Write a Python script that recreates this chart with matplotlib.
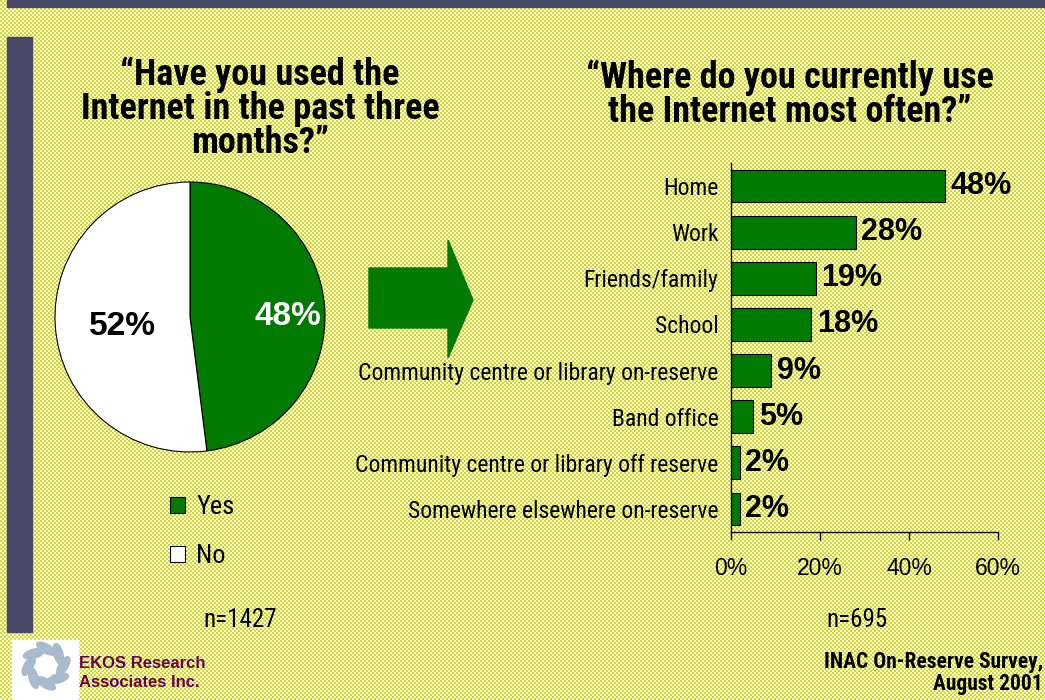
import numpy as np
import matplotlib.pyplot as plt
from matplotlib import font_manager
from matplotlib.patches import Rectangle, Polygon, Ellipse

W, H = 1045, 700

# data
pie_labels = ["Yes", "No"]
pie_values = [48, 52]
pie_n = "n=1427"

places = ["Home", "Work", "Friends/family", "School",
          "Community centre or library on-reserve", "Band office",
          "Community centre or library off reserve",
          "Somewhere elsewhere on-reserve"]
place_values = [48, 28, 19, 18, 9, 5, 2, 2]
place_ticks = [0, 20, 40, 60]
bar_n = "n=695"

GREEN = "#007a00"
SLATE = "#474768"


def pick_narrow():
    for name in ["Liberation Sans Narrow", "Roboto Condensed", "Open Sans Condensed",
                 "Noto Sans Condensed", "DejaVu Sans Condensed"]:
        try:
            font_manager.findfont(name, fallback_to_default=False)
            return name
        except Exception:
            pass
    return "Liberation Sans"


NARROW = pick_narrow()
ARIAL = "Liberation Sans"


def fx(px):
    return px / W


def fy(py):
    return 1 - py / H


fig = plt.figure(figsize=(W / 100, H / 100), dpi=100)

# dotted yellow background
yy, xx = np.mgrid[0:H, 0:W]
dots = ((yy // 2) + (xx // 2)) % 2 == 0
bg = np.ones((H, W, 3))
bg[dots] = [0.84, 0.86, 0.05]
fig.figimage(bg, xo=0, yo=0, zorder=-10)

# slide frame bars
fig.patches.append(Rectangle((fx(7), fy(7)), fx(W - 7), 7 / H,
                             transform=fig.transFigure, color=SLATE, zorder=-5))
fig.patches.append(Rectangle((fx(7), fy(632)), fx(25), 595 / H,
                             transform=fig.transFigure, color=SLATE, zorder=-5))

# pie
ax1 = fig.add_axes([fx(55), fy(452), 270 / W, 270 / H])
ax1.set_facecolor("none")
wedges, _ = ax1.pie(pie_values, colors=[GREEN, "white"], startangle=90,
                    counterclock=False,
                    wedgeprops=dict(edgecolor="black", linewidth=0.8))
ax1.set_xlim(-1, 1)
ax1.set_ylim(-1, 1)
ax1.set_aspect("equal")
for w, v, dist, col in zip(wedges, pie_values, [0.73, 0.5], ["white", "black"]):
    ang = np.deg2rad((w.theta1 + w.theta2) / 2)
    ax1.text(dist * np.cos(ang), dist * np.sin(ang) - 0.04, f"{v}%",
             ha="center", va="center", fontsize=24, fontweight="bold",
             color=col, family=ARIAL)

fig.legend(wedges, pie_labels, loc="upper left",
           bbox_to_anchor=(fx(170), fy(495)), frameon=False,
           prop=dict(family=NARROW, size=19), handlelength=0.55,
           handleheight=0.55, handletextpad=0.45, labelspacing=0.95,
           borderpad=0, borderaxespad=0)
fig.text(fx(240), fy(620), pie_n, ha="center", va="center",
         fontsize=18, family=NARROW)

fig.text(fx(260), fy(109), "\u201cHave you used the\nInternet in the past three\nmonths?\u201d",
         ha="center", va="center", fontsize=26, fontweight="bold",
         family=NARROW, linespacing=0.92)

# arrow
arrow_pts = [(369, 268), (448, 268), (448, 240), (473, 300),
             (448, 358), (448, 328), (369, 328)]
fig.patches.append(Polygon([(fx(x), fy(y)) for x, y in arrow_pts],
                           closed=True, transform=fig.transFigure,
                           color=GREEN, zorder=2))

# bar chart
ax2 = fig.add_axes([fx(731), fy(532), 267 / W, 369 / H])
ax2.set_facecolor("none")
ypos = np.arange(len(places))
bars = ax2.barh(ypos, place_values, height=0.71, color=GREEN,
                edgecolor="black", linewidth=0.8)
ax2.bar_label(bars, labels=[f"{v}%" for v in place_values], padding=4,
              fontsize=22, fontweight="bold", family=ARIAL)
ax2.set_ylim(len(places) - 0.5, -0.5)
ax2.set_xlim(0, 60)
ax2.set_yticks(ypos)
ax2.set_yticklabels(places, family=NARROW, fontsize=17)
ax2.set_xticks(place_ticks)
ax2.set_xticklabels([f"{t}%" for t in place_ticks], family=ARIAL, fontsize=16.5)
ax2.tick_params(axis="y", length=0, pad=9)
ax2.tick_params(axis="x", length=6, width=1, direction="out", pad=12)
for s in ["top", "right"]:
    ax2.spines[s].set_visible(False)
for s in ["left", "bottom"]:
    ax2.spines[s].set_linewidth(1)

fig.text(fx(790), fy(95), "\u201cWhere do you currently use\nthe Internet most often?\u201d",
         ha="center", va="center", fontsize=26, fontweight="bold",
         family=NARROW, linespacing=0.92)
fig.text(fx(857), fy(620), bar_n, ha="center", va="center",
         fontsize=18, family=NARROW)

# footer
fig.patches.append(Rectangle((fx(12), fy(700)), 66 / W, 60 / H,
                             transform=fig.transFigure, color="white", zorder=-5))
axl = fig.add_axes([fx(18), fy(694), 56 / W, 56 / H])
axl.set_xlim(-1, 1)
axl.set_ylim(-1, 1)
axl.axis("off")
for k in range(8):
    a = k * np.pi / 4
    axl.add_patch(Ellipse((0.62 * np.cos(a), 0.62 * np.sin(a)), 0.75, 0.32,
                          angle=np.rad2deg(a) + 60, color="#a9bacd"))

fig.text(fx(79), fy(673), "EKOS Research\nAssociates Inc.", ha="left",
         va="center", fontsize=12, fontweight="bold", color="#6a0048",
         family=ARIAL, linespacing=1.3)
fig.text(fx(1043), fy(673), "INAC On-Reserve Survey,\nAugust 2001", ha="right",
         va="center", fontsize=15.5, fontweight="bold", family=NARROW,
         linespacing=0.95)

fig.savefig("out.png", dpi=100)
